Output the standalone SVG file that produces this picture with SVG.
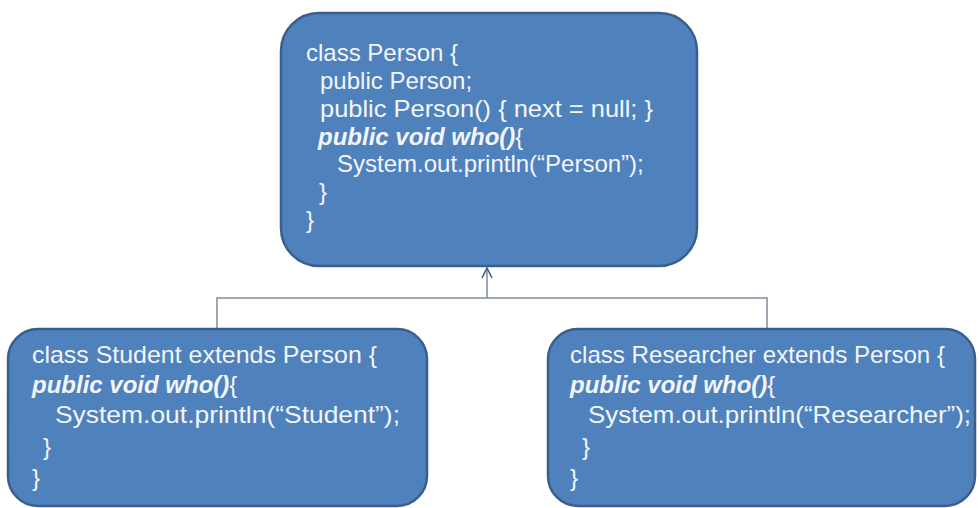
<svg xmlns="http://www.w3.org/2000/svg" width="979" height="508" viewBox="0 0 979 508">
  <defs>
    <marker id="open-arrow" viewBox="0 0 12 12" refX="11" refY="6" markerWidth="12" markerHeight="12" markerUnits="userSpaceOnUse" orient="auto">
      <path d="M1,1 L11,6 L1,11" fill="none" stroke="#4a5f86" stroke-width="1.6"/>
    </marker>
  </defs>
  <style>
    .box { fill: #4f81bd; stroke: #3a5f8e; stroke-width: 2.5; }
    .code { font-family: "Liberation Sans", Arial, sans-serif; font-size: 24px; fill: #f2f6fb; }
    .kw { font-weight: bold; font-style: italic; }
    .wire { fill: none; stroke: #7f8b9c; stroke-width: 1.5; }
  </style>
  <rect width="979" height="508" fill="#ffffff"/>

  <!-- inheritance connectors -->
  <g id="connectors">
    <path class="wire" d="M217,329 V298 H767 V329"/>
    <path class="wire" d="M487,298 V268" marker-end="url(#open-arrow)"/>
  </g>

  <!-- base class -->
  <g id="person">
    <rect class="box" x="281" y="13" width="416" height="253" rx="38"/>
    <text class="code" x="306" y="61">class Person {</text>
    <text class="code" x="320" y="89">public Person;</text>
    <text class="code" x="320" y="117" textLength="333" lengthAdjust="spacingAndGlyphs">public Person() { next = null; }</text>
    <text class="code" x="318" y="145"><tspan class="kw">public void who()</tspan>{</text>
    <text class="code" x="337" y="172">System.out.println(“Person”);</text>
    <text class="code" x="319" y="200">}</text>
    <text class="code" x="306" y="228">}</text>
  </g>

  <!-- subclass: Student -->
  <g id="student">
    <rect class="box" x="8" y="329" width="419" height="177" rx="30"/>
    <text class="code" x="32" y="363" textLength="345" lengthAdjust="spacingAndGlyphs">class Student extends Person {</text>
    <text class="code" x="32" y="393"><tspan class="kw">public void who()</tspan>{</text>
    <text class="code" x="55" y="423" textLength="345" lengthAdjust="spacingAndGlyphs">System.out.println(“Student”);</text>
    <text class="code" x="43" y="455">}</text>
    <text class="code" x="32" y="486">}</text>
  </g>

  <!-- subclass: Researcher -->
  <g id="researcher">
    <rect class="box" x="548" y="329" width="427" height="177" rx="30"/>
    <text class="code" x="570" y="363" textLength="375" lengthAdjust="spacingAndGlyphs">class Researcher extends Person {</text>
    <text class="code" x="570" y="393"><tspan class="kw">public void who()</tspan>{</text>
    <text class="code" x="588" y="423" textLength="383" lengthAdjust="spacingAndGlyphs">System.out.println(“Researcher”);</text>
    <text class="code" x="582" y="455">}</text>
    <text class="code" x="570" y="486">}</text>
  </g>
</svg>
